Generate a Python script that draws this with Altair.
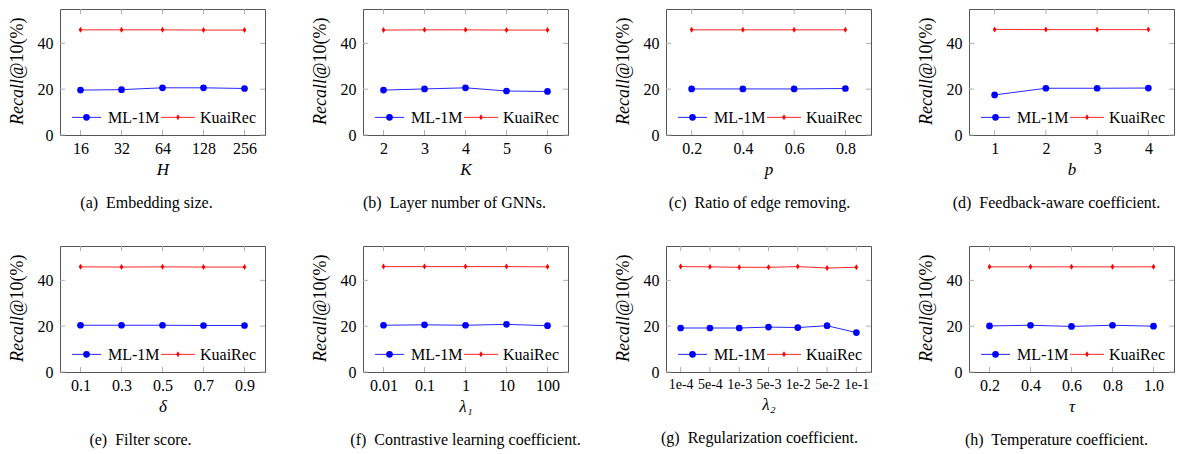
import altair as alt
import pandas as pd

# ---------------- data ----------------
series_names = ["ML-1M", "KuaiRec"]

a_cats = ["16", "32", "64", "128", "256"]
a_ml = [19.6, 19.8, 20.6, 20.6, 20.3]
a_kr = [45.9, 45.9, 45.9, 45.8, 45.8]

b_cats = ["2", "3", "4", "5", "6"]
b_ml = [19.6, 20.1, 20.6, 19.2, 19.0]
b_kr = [45.8, 45.9, 45.9, 45.8, 45.8]

c_cats = ["0.2", "0.4", "0.6", "0.8"]
c_ml = [20.1, 20.1, 20.1, 20.3]
c_kr = [45.9, 45.9, 45.9, 45.9]

d_cats = ["1", "2", "3", "4"]
d_ml = [17.5, 20.4, 20.4, 20.5]
d_kr = [46.1, 46.0, 46.0, 46.0]

e_cats = ["0.1", "0.3", "0.5", "0.7", "0.9"]
e_ml = [20.4, 20.4, 20.4, 20.3, 20.3]
e_kr = [45.9, 45.8, 45.9, 45.8, 45.8]

f_cats = ["0.01", "0.1", "1", "10", "100"]
f_ml = [20.4, 20.6, 20.4, 20.8, 20.2]
f_kr = [46.0, 46.0, 46.0, 46.0, 45.9]

g_cats = ["1e-4", "5e-4", "1e-3", "5e-3", "1e-2", "5e-2", "1e-1"]
g_ml = [19.2, 19.2, 19.2, 19.6, 19.4, 20.2, 17.2]
g_kr = [46.0, 45.9, 45.7, 45.7, 46.0, 45.4, 45.7]

h_cats = ["0.2", "0.4", "0.6", "0.8", "1.0"]
h_ml = [20.1, 20.4, 19.9, 20.4, 20.0]
h_kr = [45.9, 45.9, 45.9, 45.9, 45.9]

y_ticks = [0, 20, 40]

# ---------------- style ----------------
FONT = "Liberation Serif"
BLUE = "#0000ff"
RED = "#ff0000"
TICK = "#b0b0b0"
W, H = 205, 126
DIAMOND = "M0,-1L0.6,0L0,1L-0.6,0Z"


def panel(caption, xtitle, cats, ml, kr, dx, label_size=16):
    n = len(cats)
    df = pd.DataFrame({"x": cats * 2, "v": ml + kr,
                       "s": [series_names[0]] * n + [series_names[1]] * n})
    X = alt.X("x:N", sort=cats,
              scale=alt.Scale(type="point", padding=0.5),
              axis=alt.Axis(title=xtitle, ticks=False, domain=False, grid=False,
                            labelAngle=0, labelFontSize=label_size,
                            titleFontStyle="italic", labelPadding=5,
                            titlePadding=5))
    Y = alt.Y("v:Q", scale=alt.Scale(domain=[0, 55], nice=False),
              axis=alt.Axis(title=None, values=y_ticks, ticks=False, tickSize=0,
                            domain=False, grid=False, labelPadding=7))
    lines = alt.Chart(df).mark_line(strokeWidth=1, opacity=0.85).encode(
        x=X, y=Y,
        color=alt.Color("s:N", scale=alt.Scale(domain=series_names, range=[BLUE, RED]),
                        legend=None))
    p_ml = alt.Chart(df[df.s == series_names[0]]).mark_point(
        filled=True, shape="circle", size=45, color=BLUE, opacity=1).encode(x=X, y=Y)
    p_kr = alt.Chart(df[df.s == series_names[1]]).mark_point(
        filled=True, shape=DIAMOND, size=36, color=RED, opacity=1).encode(x=X, y=Y)

    tdf = pd.DataFrame({"x": cats})
    t_bot = alt.Chart(tdf).mark_rule(color=TICK, strokeWidth=1).encode(
        x=X, y=alt.value(H), y2=alt.value(H - 5))
    t_top = alt.Chart(tdf).mark_rule(color=TICK, strokeWidth=1).encode(
        x=X, y=alt.value(0), y2=alt.value(5))
    ydf = pd.DataFrame({"v": y_ticks})
    t_left = alt.Chart(ydf).mark_rule(color=TICK, strokeWidth=1).encode(
        y=Y, x=alt.value(0), x2=alt.value(5))
    t_right = alt.Chart(ydf).mark_rule(color=TICK, strokeWidth=1).encode(
        y=Y, x=alt.value(W - 5), x2=alt.value(W))

    # legend drawn inside the plot
    one = pd.DataFrame({"k": [0]})
    cx = W / 2
    ly = 0.86 * H
    leg = [
        alt.Chart(one).mark_rule(color=BLUE, strokeWidth=1, opacity=0.85).encode(
            x=alt.value(cx - 90.5), x2=alt.value(cx - 61.5), y=alt.value(ly)),
        alt.Chart(one).mark_point(filled=True, shape="circle", size=45, color=BLUE,
                                  opacity=1).encode(x=alt.value(cx - 76), y=alt.value(ly)),
        alt.Chart(one).mark_text(align="left", baseline="middle", font=FONT,
                                 fontSize=16, color="black").encode(
            x=alt.value(cx - 54.5), y=alt.value(ly + 1), text=alt.value(series_names[0])),
        alt.Chart(one).mark_rule(color=RED, strokeWidth=1, opacity=0.85).encode(
            x=alt.value(cx - 1.5), x2=alt.value(cx + 32.5), y=alt.value(ly)),
        alt.Chart(one).mark_point(filled=True, shape=DIAMOND, size=36, color=RED,
                                  opacity=1).encode(x=alt.value(cx + 15.5), y=alt.value(ly)),
        alt.Chart(one).mark_text(align="left", baseline="middle", font=FONT,
                                 fontSize=16, color="black").encode(
            x=alt.value(cx + 37.5), y=alt.value(ly + 1), text=alt.value(series_names[1])),
    ]
    # y-axis title: italic "Recall" + upright "@10(%)"
    ytitle = [
        alt.Chart(one).mark_text(angle=270, align="right", baseline="alphabetic",
                                 font=FONT, fontSize=18, fontStyle="italic",
                                 color="black").encode(
            x=alt.value(-37), y=alt.value(70), text=alt.value("Recall")),
        alt.Chart(one).mark_text(angle=270, align="left", baseline="alphabetic",
                                 font=FONT, fontSize=18, color="black").encode(
            x=alt.value(-37), y=alt.value(70), text=alt.value("@10(%)")),
    ]
    return alt.layer(lines, p_ml, p_kr, t_bot, t_top, t_left, t_right,
                     *leg, *ytitle).properties(
        width=W, height=H,
        title=alt.TitleParams(caption, orient="bottom", anchor="middle", dx=dx,
                              offset=18, font=FONT, fontSize=16,
                              fontWeight="normal", color="black", baseline="top"))


panels = [
    panel("(a)\u00a0 Embedding size.", "H", a_cats, a_ml, a_kr, -16),
    panel("(b)\u00a0 Layer number of GNNs.", "K", b_cats, b_ml, b_kr, -11),
    panel("(c)\u00a0 Ratio of edge removing.", "p", c_cats, c_ml, c_kr, -9),
    panel("(d)\u00a0 Feedback-aware coefficient.", "b", d_cats, d_ml, d_kr, -15),
    panel("(e)\u00a0 Filter score.", "δ", e_cats, e_ml, e_kr, -22),
    panel("(f)\u00a0 Contrastive learning coefficient.", "λ₁", f_cats, f_ml, f_kr, 0),
    panel("(g)\u00a0 Regularization coefficient.", "λ₂", g_cats, g_ml, g_kr, -9,
          label_size=14),
    panel("(h)\u00a0 Temperature coefficient.", "τ", h_cats, h_ml, h_kr, -15),
]

chart = alt.concat(*panels, columns=4, spacing={"row": 111, "column": 98},
                   bounds="flush").properties(
    padding={"left": 0, "top": 0, "right": 0, "bottom": 0}
).configure_view(stroke="#555555", strokeWidth=1).configure_axis(
    labelFont=FONT, titleFont=FONT, labelColor="black", titleColor="black",
    titleFontWeight="normal", titleFontSize=17, labelFontSize=16)

chart.save("out.html", embed_options={"renderer": "svg", "actions": False})
